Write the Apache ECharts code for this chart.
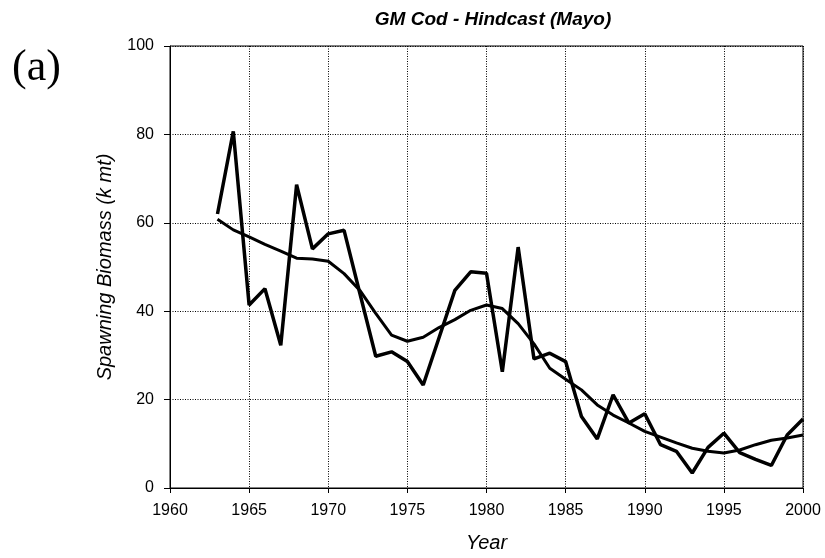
<!DOCTYPE html>
<html>
<head>
<meta charset="utf-8" />
<title>GM Cod - Hindcast (Mayo)</title>
<script src="https://cdn.jsdelivr.net/npm/echarts@6/dist/echarts.min.js"></script>
<style>
  html, body { margin: 0; padding: 0; background: #fff; }
  #chart { width: 825px; height: 558px; }
</style>
</head>
<body>
<div id="chart"></div>
<script type="text/javascript">
// years 1963..2000
var years = [];
for (var y = 1963; y <= 2000; y++) years.push(y);

// hindcast biomass (thick jagged line)
var biomass = [62.0, 80.7, 41.4, 45.1, 32.3, 68.6, 54.1, 57.5, 58.3, 44.0,
               29.8, 30.8, 28.6, 23.3, 34.0, 44.7, 48.9, 48.6, 26.3, 54.5,
               29.2, 30.5, 28.6, 16.2, 11.1, 21.1, 14.7, 16.8, 9.8, 8.3,
               3.4, 9.2, 12.4, 8.0, 6.5, 5.1, 12.0, 15.6];
// smoothed trend
var smooth = [60.8, 58.4, 56.8, 55.1, 53.6, 52.0, 51.8, 51.3, 48.5, 44.7,
              39.5, 34.6, 33.2, 34.1, 36.3, 38.1, 40.2, 41.4, 40.6, 37.2,
              32.6, 27.1, 24.6, 22.2, 18.8, 16.5, 14.7, 12.8, 11.5, 10.2,
              9.0, 8.3, 7.9, 8.6, 9.8, 10.8, 11.3, 12.0];

function pairs(vals) {
  return years.map(function (yr, i) { return [yr, vals[i]]; });
}

var myChart = echarts.init(document.getElementById('chart'));
var option = {
  animation: false,
  backgroundColor: '#fff',
  title: {
    text: 'GM Cod - Hindcast (Mayo)',
    left: 488,
    top: 5,
    textAlign: 'center',
    textStyle: { fontFamily: 'Liberation Sans', fontSize: 19, fontWeight: 'bold', fontStyle: 'italic', color: '#000' }
  },
  graphic: [{
    type: 'text',
    left: 12,
    top: 46,
    style: { text: '(a)', font: '44px "Liberation Serif"', fill: '#000' }
  }],
  grid: {
    left: 170, right: 22, top: 46, bottom: 68,
    show: true, borderColor: '#000', borderWidth: 1
  },
  xAxis: {
    type: 'value',
    min: 1960, max: 2000, interval: 5,
    name: 'Year',
    nameLocation: 'middle',
    nameGap: 45,
    nameTextStyle: { fontFamily: 'Liberation Sans', fontSize: 20, fontStyle: 'italic', color: '#000' },
    axisLine: { lineStyle: { color: '#000', width: 1 } },
    axisTick: { show: true, length: 5, lineStyle: { color: '#000' } },
    axisLabel: { fontFamily: 'Liberation Sans', fontSize: 16, color: '#000', margin: 15,
                 formatter: function (v) { return String(v); } },
    splitLine: { show: true, lineStyle: { color: '#000', type: [1, 1.5], width: 1 } }
  },
  yAxis: {
    type: 'value',
    min: 0, max: 100, interval: 20,
    name: 'Spawning Biomass (k mt)',
    nameLocation: 'middle',
    nameGap: 55,
    nameTextStyle: { fontFamily: 'Liberation Sans', fontSize: 20, fontStyle: 'italic', color: '#000' },
    axisLine: { show: true, lineStyle: { color: '#000', width: 1 } },
    axisTick: { show: true, length: 6, lineStyle: { color: '#000' } },
    axisLabel: { fontFamily: 'Liberation Sans', fontSize: 16, color: '#000', margin: 16 },
    splitLine: { show: true, lineStyle: { color: '#000', type: [1, 1.5], width: 1 } }
  },
  series: [{
    name: 'Hindcast',
    type: 'line',
    data: pairs(biomass),
    symbol: 'none',
    lineStyle: { color: '#000', width: 3.5 },
    z: 3
  }, {
    name: 'Smooth',
    type: 'line',
    data: pairs(smooth),
    symbol: 'none',
    lineStyle: { color: '#000', width: 3 },
    z: 2
  }]
};
myChart.setOption(option);
</script>
</body>
</html>
